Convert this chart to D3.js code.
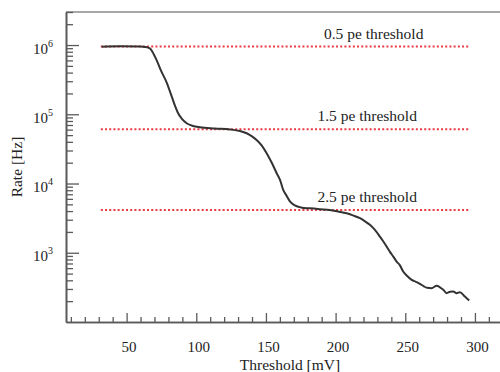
<!DOCTYPE html>
<html>
<head>
<meta charset="utf-8">
<script src="https://cdn.jsdelivr.net/npm/d3@7"></script>
<style>
  html, body { margin: 0; padding: 0; background: #fff; }
  svg { display: block; font-family: "Liberation Serif", "Times New Roman", serif; }
</style>
</head>
<body>
<svg id="chart" width="500" height="372"></svg>
<script>
// Trigger rate scan: rate versus discriminator threshold
const thresholdMv = [32.1, 45.2, 60.0, 63.2, 66.7, 68.5, 71.6, 74.6, 78.7, 82.3, 84.7, 86.8, 89.7, 93.1, 97.6,
  102.6, 113.4, 124.2, 131.3, 136.2, 140.0, 143.3, 146.9, 150.5, 154.1, 157.7, 160.1, 162.4,
  164.9, 167.2, 170.8, 175.1, 181.6, 188.8, 195.9, 201.7, 207.9, 212.4, 217.5, 221.1, 224.6,
  228.2, 231.8, 233.9, 236.6, 239.0, 241.4, 243.8, 246.2, 248.5, 251.2, 254.6, 257.7, 260.5,
  263.4, 265.6, 268.9, 272.5, 274.9, 277.3, 279.7, 282.1, 284.4, 286.9, 289.2, 292.8, 295.9];
const rateHz = [945000, 957000, 955000, 940000, 895000, 800000, 600000, 430000, 290000, 183000, 133000, 105000,
  85500, 74100, 67800, 64900, 62400, 60400, 57400, 53200, 47900, 42600, 35500, 27400, 20100,
  14100, 11300, 8090, 6620, 5520, 4830, 4520, 4380, 4260, 4160, 3950, 3720, 3470, 3160, 2840,
  2530, 2140, 1710, 1490, 1230, 1030, 881, 746, 658, 536, 465, 406, 380, 356, 327, 312, 308,
  333, 317, 292, 261, 273, 275, 261, 270, 233, 204];

// Photo-electron threshold levels
const peLabels = ["0.5 pe threshold", "1.5 pe threshold", "2.5 pe threshold"];
const peRates = [950000, 61000, 4150];
const peSpanMv = [31.5, 296];

// Axis ticks
const xMajorTicks = [50, 100, 150, 200, 250, 300];
const yMajorTicks = [1e3, 1e4, 1e5, 1e6];
const yExponents = ["3", "4", "5", "6"];

const svg = d3.select("#chart");
const plotLeft = 66, plotTop = 12, plotBottom = 322;

const x = d3.scaleLinear().domain([6.5, 320]).range([plotLeft, 502.8]);
const y = d3.scaleLog().domain([100, 3e6]).range([plotBottom, plotTop]);

const axisColor = "#5a5a5a";
const textColor = "#222";

// Frame: top edge
svg.append("line")
  .attr("x1", plotLeft).attr("x2", 510).attr("y1", plotTop).attr("y2", plotTop)
  .attr("stroke", "#8a8a8a").attr("stroke-width", 1.5);

// X axis (ticks pointing into the plot)
const xMinor = d3.range(10, 321, 10).filter(v => v % 50 !== 0);
const gxMinor = svg.append("g").attr("transform", `translate(0,${plotBottom})`)
  .call(d3.axisBottom(x).tickValues(xMinor).tickSizeInner(-5).tickSizeOuter(0).tickFormat(""));
const gx = svg.append("g").attr("transform", `translate(0,${plotBottom})`)
  .call(d3.axisBottom(x).tickValues(xMajorTicks).tickSizeInner(-9).tickSizeOuter(0));
gx.selectAll("text").attr("font-size", 15).attr("fill", textColor)
  .attr("font-family", "Liberation Serif, serif").attr("dy", 0).attr("y", 30).attr("dx", 2);
[gx, gxMinor].forEach(g => {
  g.select(".domain").attr("stroke", axisColor).attr("stroke-width", 1.6);
  g.selectAll(".tick line").attr("stroke", axisColor).attr("stroke-width", 1.3);
});

// Y axis (log, ticks pointing into the plot)
const yMinor = [];
[100, 1000, 10000, 100000, 1000000].forEach(d => {
  for (let k = 2; k <= 9; k++) if (d * k <= 3e6) yMinor.push(d * k);
});
const gyMinor = svg.append("g").attr("transform", `translate(${plotLeft},0)`)
  .call(d3.axisLeft(y).tickValues(yMinor).tickSizeInner(-7).tickSizeOuter(0).tickFormat(""));
const gy = svg.append("g").attr("transform", `translate(${plotLeft},0)`)
  .call(d3.axisLeft(y).tickValues(yMajorTicks).tickSizeInner(-13).tickSizeOuter(0).tickPadding(13));
gy.selectAll("text").each(function(d, i) {
  const t = d3.select(this);
  t.text("").attr("dy", 0).attr("y", 8).attr("font-size", 15).attr("fill", textColor)
    .attr("font-family", "Liberation Serif, serif");
  t.append("tspan").text("10");
  t.append("tspan").attr("font-size", 10).attr("dy", -7).text(yExponents[i]);
});
[gy, gyMinor].forEach(g => {
  g.select(".domain").attr("stroke", axisColor).attr("stroke-width", 1.6);
  g.selectAll(".tick line").attr("stroke", axisColor).attr("stroke-width", 1.3);
});

// Threshold reference lines with labels
const labelShift = [6.5, 0, 0];
peRates.forEach((r, i) => {
  svg.append("line")
    .attr("x1", x(peSpanMv[0])).attr("x2", x(peSpanMv[1]))
    .attr("y1", y(r)).attr("y2", y(r))
    .attr("stroke", "#ea3a44").attr("stroke-width", 2)
    .attr("stroke-dasharray", "2,2.2");
  svg.append("text")
    .attr("x", x(187) + labelShift[i]).attr("y", y(r) - 8)
    .attr("font-size", 15.5).attr("fill", textColor)
    .text(peLabels[i]);
});

// Rate curve
const pts = thresholdMv.map((t, i) => [t, rateHz[i]]);
svg.append("path")
  .datum(pts)
  .attr("fill", "none")
  .attr("stroke", "#333")
  .attr("stroke-width", 2)
  .attr("stroke-linejoin", "round")
  .attr("d", d3.line().x(d => x(d[0])).y(d => y(d[1])).curve(d3.curveMonotoneX));

// Axis titles
svg.append("text")
  .attr("x", 290).attr("y", 370)
  .attr("text-anchor", "middle").attr("font-size", 15.5).attr("fill", textColor)
  .text("Threshold [mV]");
svg.append("text")
  .attr("transform", "translate(22,167) rotate(-90)")
  .attr("text-anchor", "middle").attr("font-size", 15.5).attr("fill", textColor)
  .text("Rate [Hz]");
</script>
</body>
</html>
